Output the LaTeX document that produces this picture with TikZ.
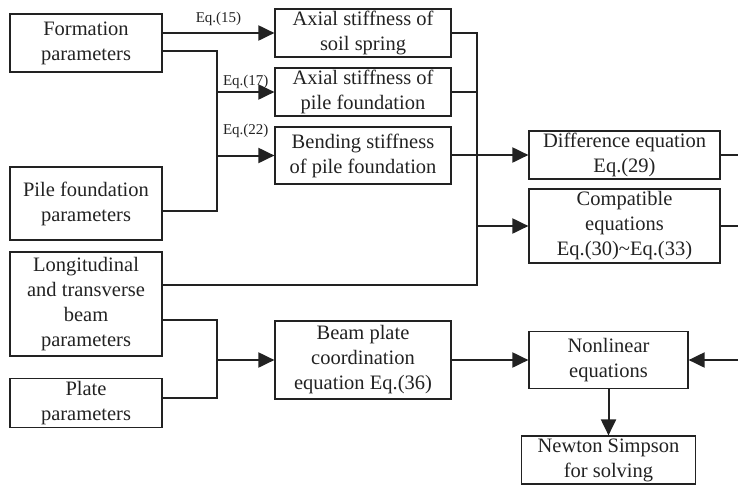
\documentclass[tikz,border=0pt]{standalone}
\usepackage{fontspec}
\setmainfont{Liberation Serif}
\usetikzlibrary{arrows.meta, positioning}
\definecolor{ink}{HTML}{222222}

\begin{document}
\begin{tikzpicture}[x=1pt,y=-1pt,>={Triangle[length=16pt,width=15pt]},
    box/.style={draw=ink, line width=1.2pt, text=ink, align=center, inner sep=0pt,
        font=\fontsize{20.5}{25}\selectfont},
    conn/.style={draw=ink, line width=2pt},
    eq/.style={text=ink, font=\fontsize{15}{18}\selectfont, inner sep=1pt}]
    \useasboundingbox (0,0) rectangle (738,485);
    % inputs
    \node[box, minimum width=152pt, minimum height=58pt] (form) at (86,43) {Formation\\parameters};
    \node[box, minimum width=152pt, minimum height=73pt] (pile) at (86,203.5) {Pile foundation\\parameters};
    \node[box, minimum width=152pt, minimum height=104pt] (longi) at (86,304) {Longitudinal\\and transverse\\beam\\parameters};
    \node[box, minimum width=152pt, minimum height=49pt] (plate) at (86,403) {Plate\\parameters};
    % stiffness
    \node[box, minimum width=176pt, minimum height=48pt] (soil) at (363,33) {Axial stiffness of\\soil spring};
    \node[box, minimum width=176pt, minimum height=48pt] (axial) at (363,92) {Axial stiffness of\\pile foundation};
    \node[box, minimum width=176pt, minimum height=57pt] (bend) at (363,155.5) {Bending stiffness\\of pile foundation};
    \node[box, minimum width=176pt, minimum height=78pt] (beam) at (363,360) {Beam plate\\coordination\\equation Eq.(36)};
    % equations
    \node[box, minimum width=191pt, minimum height=48pt] (diff) at (624.5,155) {Difference equation\\Eq.(29)};
    \node[box, minimum width=191pt, minimum height=74pt] (comp) at (624.5,226) {Compatible\\equations\\Eq.(30)\textasciitilde Eq.(33)};
    \node[box, minimum width=159pt, minimum height=57pt] (nonlin) at (608.5,360) {Nonlinear\\equations};
    \node[box, minimum width=174pt, minimum height=48pt] (newton) at (608.5,460) {Newton Simpson\\for solving};
    \coordinate (j1) at (217,0);
    \coordinate (j2) at (477,285);
    \coordinate (j3) at (217,360);
    \coordinate (edge) at (738,0);

    \draw[conn,->] (form.east |- soil.west) -- node[eq, above=5pt] {Eq.(15)} (soil.west);
    \draw[conn] ([yshift=-8pt]form.east) -| ([yshift=-7pt]j1 |- pile.east) -- ([yshift=-7pt]pile.east);
    \draw[conn,->] (j1 |- axial.west) -- node[eq, above=1pt] {Eq.(17)} (axial.west);
    \draw[conn,->] (j1 |- bend.west) -- node[eq, above=16pt] {Eq.(22)} (bend.west);

    \draw[conn] (soil.east) -| (j2) -- (j2 -| longi.east);
    \draw[conn] (axial.east) -- (axial.east -| j2);
    \draw[conn,->] (bend.east |- diff.west) -- (diff.west);
    \draw[conn,->] (j2 |- comp.west) -- (comp.west);
    \draw[conn] (diff.east) -- (diff.east -| edge);
    \draw[conn] (comp.east) -- (comp.east -| edge);

    \draw[conn] ([yshift=-16pt]longi.east) -| (j3) |- ([yshift=5pt]plate.east);
    \draw[conn,->] (j3) -- (beam.west);
    \draw[conn,->] (beam.east) -- (nonlin.west);
    \draw[conn,->] (edge |- nonlin.east) -- (nonlin.east);
    \draw[conn,->] (nonlin.south) -- (newton.north);
\end{tikzpicture}
\end{document}
